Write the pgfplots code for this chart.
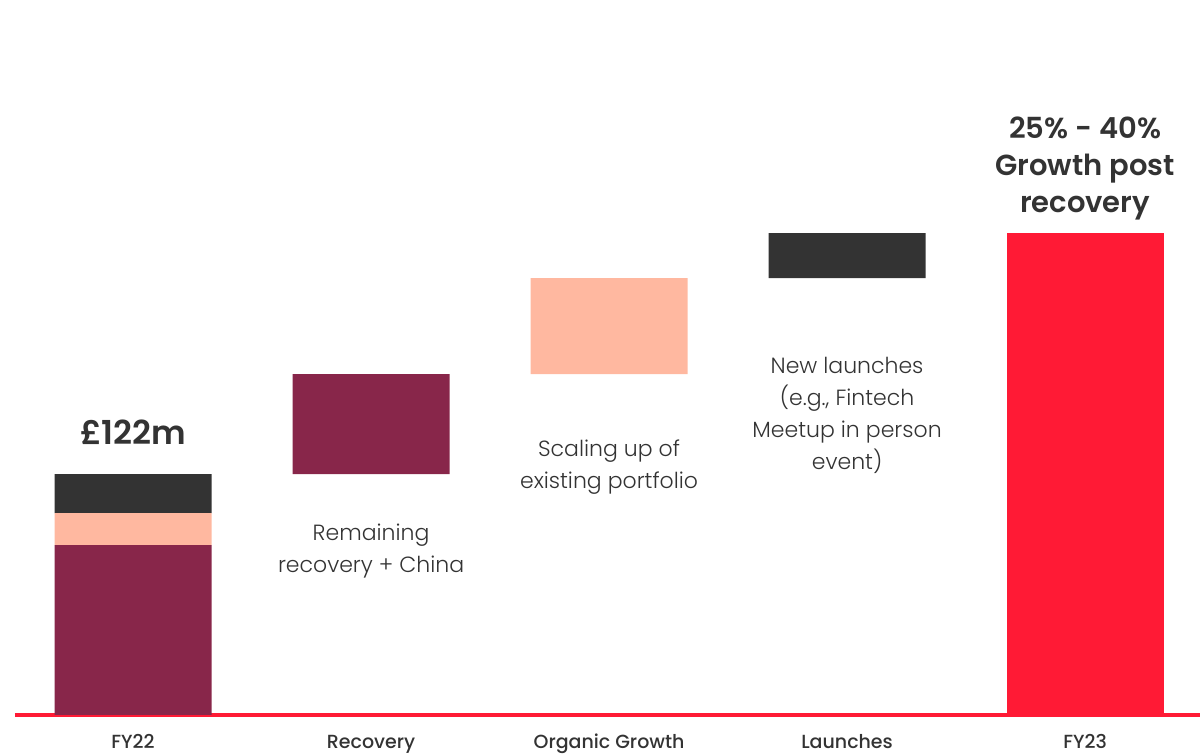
\documentclass[border=0pt]{standalone}
\usepackage{pgfplots}
\pgfplotsset{compat=1.18}
\usepackage{fontspec}
\setmainfont{Poppins}
\newfontfamily\lightfont{Poppins Light}
\newfontfamily\medfont{Poppins Medium}
\newfontfamily\semifont{Poppins SemiBold}
\definecolor{cmaroon}{HTML}{88264A}
\definecolor{cpeach}{HTML}{FFB8A0}
\definecolor{cdark}{HTML}{333333}
\definecolor{cred}{HTML}{FF1A35}
\definecolor{ctext}{HTML}{333333}
\begin{document}
\begin{tikzpicture}
\begin{axis}[
  at={(0,0)}, anchor=south west,
  scale only axis, width=1200pt, height=754pt,
  xmin=-0.559, xmax=4.483, ymin=-19.75, ymax=362,
  hide y axis,
  axis x line=middle,
  x axis line style={draw=none},
  xtick={0,1,2,3,4},
  xticklabels={FY22,Recovery,Organic Growth,Launches,FY23},
  major tick length=0pt,
  xticklabel style={anchor=base, yshift=-34pt, font=\medfont\fontsize{19}{22}\selectfont, text=ctext},
  ybar stacked, bar width=157pt,
  clip=false,
]
\addplot[draw=none, fill=none] coordinates {(0,0)(1,122)(2,172.6)(3,221.2)(4,0)};
\addplot[draw=none, fill=cmaroon] coordinates {(0,86)(1,50.6)(2,0)(3,0)(4,0)};
\addplot[draw=none, fill=cpeach] coordinates {(0,16.2)(1,0)(2,48.6)(3,0)(4,0)};
\addplot[draw=none, fill=cdark] coordinates {(0,19.8)(1,0)(2,0)(3,22.8)(4,0)};
\addplot[draw=none, fill=cred] coordinates {(0,0)(1,0)(2,0)(3,0)(4,244)};
\draw[cred, line width=3.5pt] (axis cs:-0.496,0) -- (axis cs:4.483,0);
\node[text=ctext, font=\semifont\fontsize{33}{36}\selectfont] at (axis cs:0,143.3) {£122m};
\node[text=ctext, align=center, font=\semifont\fontsize{29}{37}\selectfont] at (axis cs:4,276.9) {25\% - 40\%\\Growth post\\recovery};
\node[text=ctext, align=center, font=\lightfont\fontsize{22}{32}\selectfont] at (axis cs:1,83) {Remaining\\recovery + China};
\node[text=ctext, align=center, font=\lightfont\fontsize{22}{32}\selectfont] at (axis cs:2,125.6) {Scaling up of\\existing portfolio};
\node[text=ctext, align=center, font=\lightfont\fontsize{22}{32}\selectfont] at (axis cs:3,151.9) {New launches\\(e.g., Fintech\\Meetup in person\\event)};
\end{axis}
\pgfresetboundingbox
\path[use as bounding box] (0,0) rectangle (1200pt,754pt);
\end{tikzpicture}
\end{document}
